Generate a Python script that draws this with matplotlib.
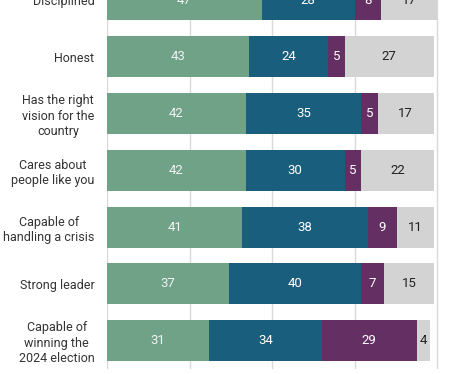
import matplotlib
matplotlib.use("Agg")
from matplotlib import pyplot as plt
import numpy as np

categories = ["Disciplined", "Honest", "Has the right\nvision for the\ncountry",
              "Cares about\npeople like you", "Capable of\nhandling a crisis",
              "Strong leader", "Capable of\nwinning the\n2024 election"]
green_vals = [47, 43, 42, 42, 41, 37, 31]
blue_vals = [28, 24, 35, 30, 38, 40, 34]
purple_vals = [8, 5, 5, 5, 9, 7, 29]
gray_vals = [17, 27, 17, 22, 11, 15, 4]

colors = ["#6fa287", "#195e7d", "#642f62", "#d3d3d3"]
text_colors = ["#f2f2f2", "white", "white", "#222222"]

plt.rcParams["font.family"] = ["Roboto", "DejaVu Sans"]

fig = plt.figure(figsize=(4.57, 3.74), dpi=100)
# axes placed so that the top bar is partly cropped, like the reference
ax = fig.add_axes([107 / 457, 1 - 369 / 374, 350 / 457, 369 / 374])

y = np.arange(len(categories))
left = np.zeros(len(categories))
for vals, c, tc in zip([green_vals, blue_vals, purple_vals, gray_vals],
                       colors, text_colors):
    vals = np.array(vals)
    ax.barh(y, vals, left=left, height=0.72, color=c, zorder=3)
    for yi, l, v in zip(y, left, vals):
        ax.text(l + v / 2, yi, str(v), ha="center", va="center",
                color=tc, fontsize=9.5, zorder=4)
    left += vals

ax.set_xlim(0, 350 / 3.3)
ax.set_ylim(6.5, 0.026)
ax.set_xticks([0, 25, 50, 75, 100])
ax.xaxis.grid(True, color="#d9d9d9", linewidth=1, zorder=0)
ax.tick_params(axis="x", length=0, labelbottom=False)
ax.tick_params(axis="y", length=0, pad=9)
ax.set_yticks(y)
ax.set_yticklabels(categories, fontsize=9, color="#333333",
                   multialignment="center", linespacing=1.25)
for s in ax.spines.values():
    s.set_visible(False)

fig.savefig("out.png", dpi=100)
